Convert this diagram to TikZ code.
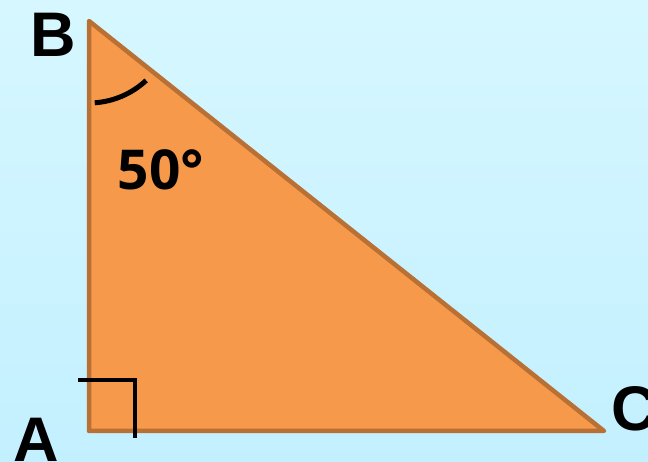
\documentclass[tikz,border=0pt]{standalone}
\usepackage{fontspec}
\setmainfont{Liberation Sans}
\newfontfamily\digitfont{Open Sans}
\definecolor{bgtop}{HTML}{D6F7FF}
\definecolor{bgbot}{HTML}{C3F0FF}
\definecolor{trifill}{HTML}{F7994A}
\definecolor{tristroke}{HTML}{B87034}
\tikzset{
  vlabel/.style={inner sep=0pt, font=\fontsize{63}{63}\selectfont\bfseries},
}
\begin{document}
\begin{tikzpicture}[x=1pt,y=1pt]
  \shade[top color=bgtop, bottom color=bgbot] (0,0) rectangle (648,462);
  \useasboundingbox (0,0) rectangle (648,462);
  \coordinate (A) at (89,31);
  \coordinate (B) at (89,441);
  \coordinate (C) at (604,31);
  \filldraw[fill=trifill, draw=tristroke, line width=4.5pt, line join=round] (A) -- (B) -- (C) -- cycle;
  % right angle mark
  \coordinate (r1) at (78,82);
  \coordinate (r2) at (135,82);
  \coordinate (r3) at (135,24);
  \draw[line width=4.5pt] (r1) -- (r2) -- (r3);
  % angle arc at B
  \draw[line width=5pt] ([shift={(-86:82)}]B) arc[start angle=-86, end angle=-47, radius=84];
  \node[vlabel] (lB) at (53,427) {B};
  \node[vlabel] (lA) at (36,22) {A};
  \node[vlabel] (lC) at (634,53) {C};
  \node[inner sep=0pt, font=\fontsize{55}{55}\selectfont\digitfont\bfseries] (ang) at (161,292) {50°};
\end{tikzpicture}
\end{document}
